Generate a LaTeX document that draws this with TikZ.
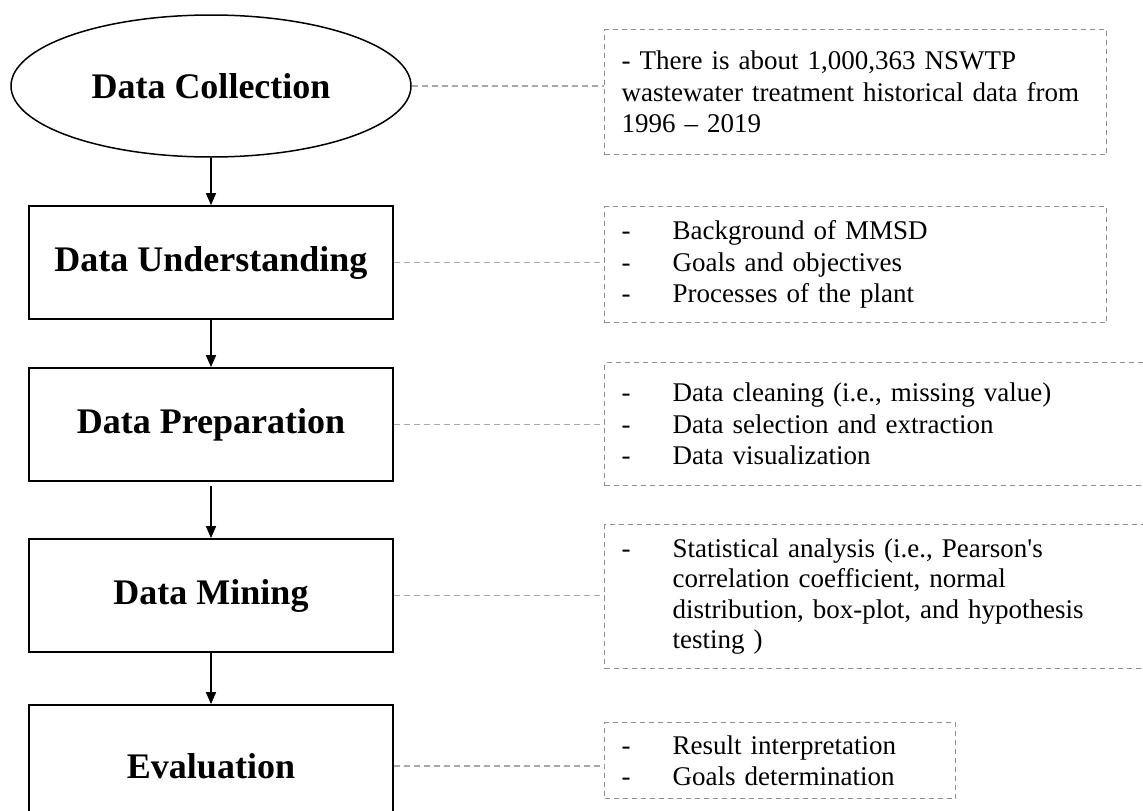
\documentclass[tikz,border=0pt]{standalone}
\usepackage{fontspec}
\setmainfont{Liberation Serif}
\usetikzlibrary{shapes.geometric,arrows.meta,calc}
\definecolor{conngray}{HTML}{A8A8A8}
\definecolor{boxgray}{HTML}{8E8E8E}
\newcommand\dashitem{\makebox[51pt][l]{-}}
\newcommand\contind{\hspace*{51pt}}
\begin{document}
\begin{tikzpicture}[x=1pt,y=-1pt,
  stage/.style={draw=black,line width=1.8pt,minimum width=364pt,minimum height=113pt,inner sep=0pt,
    font=\fontsize{36}{40}\selectfont\bfseries},
  dbox/.style={draw=boxgray,dash pattern=on 5pt off 4pt,line width=1.4pt,inner xsep=17pt,inner ysep=0pt,
    align=left,anchor=north west,font=\fontsize{27}{31.5}\selectfont},
  conn/.style={draw=conngray,dash pattern=on 6pt off 4pt,line width=1.3pt},
  flow/.style={draw=black,line width=1.6pt,-{Triangle[width=10pt,length=12pt]}}]
\useasboundingbox (0,0) rectangle (1143,811);
\clip (0,0) rectangle (1143,811);
\fill[white] (0,0) rectangle (1143,811);

% main stages
\node[stage,ellipse,minimum width=400pt,minimum height=142pt,line width=1.5pt] (dc) at (211,86) {Data Collection};
\node[stage] (du) at (211,262.5) {Data Understanding};
\node[stage] (dp) at (211,424.5) {Data Preparation};
\node[stage] (dm) at (211,595.5) {Data Mining};
\node[stage,minimum height=122pt] (ev) at (211,766) {Evaluation};

% notes
\node[dbox,text width=468pt,minimum height=125pt] (n1) at (604,29)
  {- There is about 1,000,363 NSWTP\\wastewater treatment historical data from\\1996 – 2019};
\node[dbox,text width=468pt,minimum height=116pt] (n2) at (604,206)
  {\dashitem Background of MMSD\\\dashitem Goals and objectives\\\dashitem Processes of the plant};
\node[dbox,text width=520pt,minimum height=123pt] (n3) at (604,362)
  {\dashitem Data cleaning (i.e., missing value)\\\dashitem Data selection and extraction\\\dashitem Data visualization};
\node[dbox,text width=520pt,minimum height=144pt,font=\fontsize{27}{30.5}\selectfont] (n4) at (604,524)
  {\dashitem Statistical analysis (i.e., Pearson\textquotesingle s\\\contind correlation coefficient, normal\\\contind distribution, box-plot, and hypothesis\\\contind testing )};
\node[dbox,text width=317pt,minimum height=76pt] (n5) at (604,722)
  {\dashitem Result interpretation\\\dashitem Goals determination};

% flow arrows
\draw[flow] (dc.south) -- (du.north);
\draw[flow] (du.south) -- (dp.north);
\draw[flow,shorten <=4pt] (dp.south) -- (dm.north);
\draw[flow] (dm.south) -- (ev.north);

% dashed connectors
\draw[conn] (dc.east) -- (dc.east -| n1.west);
\draw[conn] (du.east) -- (du.east -| n2.west);
\draw[conn] (dp.east) -- (dp.east -| n3.west);
\draw[conn] (dm.east) -- (dm.east -| n4.west);
\draw[conn] (ev.east) -- (ev.east -| n5.west);
\end{tikzpicture}
\end{document}
